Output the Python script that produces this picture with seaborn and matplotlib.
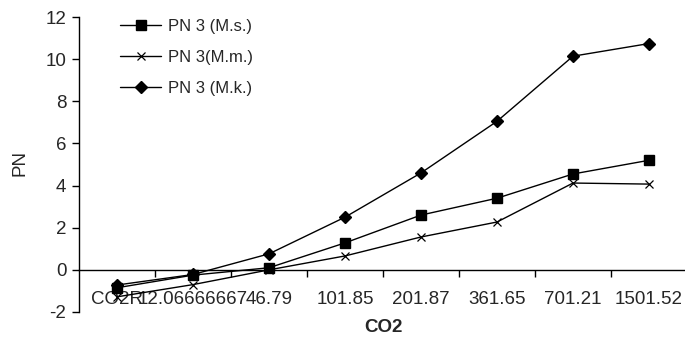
import matplotlib
matplotlib.use("Agg")
import matplotlib.pyplot as plt
import seaborn as sns
import numpy as np
import pandas as pd
from matplotlib.ticker import FixedLocator, NullFormatter

categories = ["CO2R", "12.06666667", "46.79", "101.85", "201.87", "361.65", "701.21", "1501.52"]
ms_values = [-0.85, -0.25, 0.1, 1.28, 2.6, 3.4, 4.55, 5.2]
mm_values = [-1.28, -0.7, 0.0, 0.66, 1.56, 2.27, 4.12, 4.07]
mk_values = [-0.72, -0.22, 0.76, 2.5, 4.6, 7.05, 10.14, 10.74]
series_names = ["PN 3 (M.s.)", "PN 3(M.m.)", "PN 3 (M.k.)"]
y_ticks = [-2, 0, 2, 4, 6, 8, 10, 12]

sns.set_style("white")
plt.rcParams['font.family'] = ['Liberation Sans', 'DejaVu Sans']

fig = plt.figure(figsize=(6.85, 3.38), dpi=100)
ax = fig.add_axes([79/685, 1-312/338, (687-79)/685, (312-17)/338])

pos = np.arange(len(categories))
rows = []
for name, vals in zip(series_names, [ms_values, mm_values, mk_values]):
    for p, v in zip(pos, vals):
        rows.append({"pos": p, "PN": v, "series": name})
df = pd.DataFrame(rows)

markers = {series_names[0]: "s", series_names[1]: "x", series_names[2]: "D"}
sizes = {series_names[0]: 7, series_names[1]: 6, series_names[2]: 6}
for name in series_names:
    sub = df[df["series"] == name]
    sns.lineplot(data=sub, x="pos", y="PN", ax=ax, color="black", linewidth=1.0,
                 marker=markers[name], markersize=sizes[name],
                 markeredgecolor="black", markerfacecolor="black",
                 markeredgewidth=1.0 if name != series_names[1] else 0.9,
                 label=name)

ax.set_xlim(-0.5, len(categories) - 0.5)
ax.set_ylim(-2, 12)
ax.set_yticks(y_ticks)
ax.set_yticklabels([str(t) for t in y_ticks], fontsize=13.5)

# x axis at y=0
ax.spines['bottom'].set_position(('data', 0))
ax.spines['top'].set_visible(False)
ax.spines['right'].set_visible(False)
for s in ['left', 'bottom']:
    ax.spines[s].set_color('black')
    ax.spines[s].set_linewidth(1.0)

ax.set_xticks(pos)
ax.set_xticklabels(categories, fontsize=13.5)
ax.tick_params(axis='x', which='major', length=0, pad=15)
ax.xaxis.set_minor_locator(FixedLocator(list(np.arange(0.5, len(categories), 1.0))))
ax.xaxis.set_minor_formatter(NullFormatter())
ax.tick_params(axis='x', which='minor', length=5, width=1.0, color='black', direction='out', bottom=True)
ax.tick_params(axis='y', which='major', length=5, width=1.0, color='black', direction='out', left=True, pad=4)

ax.set_xlabel("")
ax.set_ylabel("")
fig.text(20/685, 1-163/338, "PN", rotation=90, ha='center', va='center', fontsize=13.5)
fig.text(383/685, 1-327/338, "CO2", ha='center', va='center', fontsize=13.5, fontweight='bold')

leg = ax.legend(loc='upper left', bbox_to_anchor=(34/608, 1.017), frameon=False,
                fontsize=12, handlelength=2.5, labelspacing=0.96, handletextpad=0.4,
                borderaxespad=0.0)

fig.savefig("out.png", dpi=100)
